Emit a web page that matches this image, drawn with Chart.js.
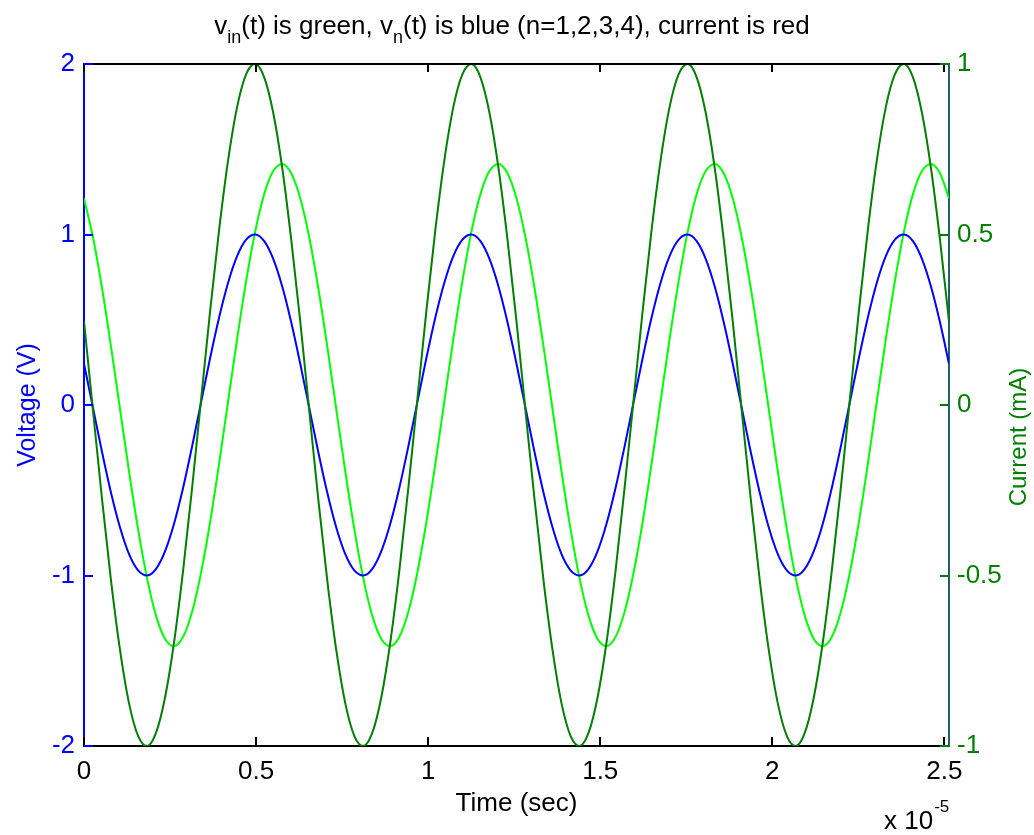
<!DOCTYPE html>
<html><head><meta charset="utf-8">
<script src="https://cdn.jsdelivr.net/npm/chart.js@4"></script>
<style>html,body{margin:0;padding:0;background:#fff;}canvas{display:block;}</style>
</head><body>
<canvas id="c" width="1034" height="835"></canvas>
<script>
// Time in units of 1e-5 s
const timeE5 = [
0, 0.0262, 0.0524, 0.0785, 0.1047, 0.1309, 0.1571, 0.1833, 0.2094, 0.2356, 0.2618, 0.2880, 0.3142, 0.3403, 0.3665, 0.3927, 0.4189, 0.4451, 0.4712, 0.4974, 0.5236, 0.5498, 0.5760, 0.6021,
0.6283, 0.6545, 0.6807, 0.7069, 0.7330, 0.7592, 0.7854, 0.8116, 0.8378, 0.8639, 0.8901, 0.9163, 0.9425, 0.9687, 0.9948, 1.0210, 1.0472, 1.0734, 1.0996, 1.1257, 1.1519, 1.1781, 1.2043, 1.2305,
1.2566, 1.2828, 1.3090, 1.3352, 1.3614, 1.3875, 1.4137, 1.4399, 1.4661, 1.4923, 1.5184, 1.5446, 1.5708, 1.5970, 1.6232, 1.6493, 1.6755, 1.7017, 1.7279, 1.7541, 1.7802, 1.8064, 1.8326, 1.8588,
1.8850, 1.9111, 1.9373, 1.9635, 1.9897, 2.0159, 2.0420, 2.0682, 2.0944, 2.1206, 2.1468, 2.1729, 2.1991, 2.2253, 2.2515, 2.2777, 2.3038, 2.3300, 2.3562, 2.3824, 2.4086, 2.4347, 2.4609, 2.4871,
2.5133];

// v_n(t), volts (blue)
const vnBlue = [
0.242, -0.017, -0.276, -0.515, -0.719, -0.875, -0.970, -1.000, -0.961, -0.857, -0.695, -0.485, -0.242, 0.017, 0.276, 0.515, 0.719, 0.875, 0.970, 1.000, 0.961, 0.857, 0.695, 0.485,
0.242, -0.017, -0.276, -0.515, -0.719, -0.875, -0.970, -1.000, -0.961, -0.857, -0.695, -0.485, -0.242, 0.017, 0.276, 0.515, 0.719, 0.875, 0.970, 1.000, 0.961, 0.857, 0.695, 0.485,
0.242, -0.017, -0.276, -0.515, -0.719, -0.875, -0.970, -1.000, -0.961, -0.857, -0.695, -0.485, -0.242, 0.017, 0.276, 0.515, 0.719, 0.875, 0.970, 1.000, 0.961, 0.857, 0.695, 0.485,
0.242, -0.017, -0.276, -0.515, -0.719, -0.875, -0.970, -1.000, -0.961, -0.857, -0.695, -0.485, -0.242, 0.017, 0.276, 0.515, 0.719, 0.875, 0.970, 1.000, 0.961, 0.857, 0.695, 0.485,
0.242];

// v_in(t), volts (bright green)
const vinGreen = [
1.212, 0.982, 0.686, 0.342, -0.025, -0.390, -0.728, -1.017, -1.237, -1.372, -1.414, -1.359, -1.212, -0.982, -0.686, -0.342, 0.025, 0.390, 0.728, 1.017, 1.237, 1.372, 1.414, 1.359,
1.212, 0.982, 0.686, 0.342, -0.025, -0.390, -0.728, -1.017, -1.237, -1.372, -1.414, -1.359, -1.212, -0.982, -0.686, -0.342, 0.025, 0.390, 0.728, 1.017, 1.237, 1.372, 1.414, 1.359,
1.212, 0.982, 0.686, 0.342, -0.025, -0.390, -0.728, -1.017, -1.237, -1.372, -1.414, -1.359, -1.212, -0.982, -0.686, -0.342, 0.025, 0.390, 0.728, 1.017, 1.237, 1.372, 1.414, 1.359,
1.212, 0.982, 0.686, 0.342, -0.025, -0.390, -0.728, -1.017, -1.237, -1.372, -1.414, -1.359, -1.212, -0.982, -0.686, -0.342, 0.025, 0.390, 0.728, 1.017, 1.237, 1.372, 1.414, 1.359,
1.212];

// current, mA (dark green, right axis)
const currentMA = [
0.245, -0.017, -0.276, -0.515, -0.719, -0.875, -0.970, -1.000, -0.961, -0.857, -0.695, -0.485, -0.242, 0.017, 0.276, 0.515, 0.719, 0.875, 0.970, 1.000, 0.961, 0.857, 0.695, 0.485,
0.245, -0.017, -0.276, -0.515, -0.719, -0.875, -0.970, -1.000, -0.961, -0.857, -0.695, -0.485, -0.242, 0.017, 0.276, 0.515, 0.719, 0.875, 0.970, 1.000, 0.961, 0.857, 0.695, 0.485,
0.245, -0.017, -0.276, -0.515, -0.719, -0.875, -0.970, -1.000, -0.961, -0.857, -0.695, -0.485, -0.242, 0.017, 0.276, 0.515, 0.719, 0.875, 0.970, 1.000, 0.961, 0.857, 0.695, 0.485,
0.245, -0.017, -0.276, -0.515, -0.719, -0.875, -0.970, -1.000, -0.961, -0.857, -0.695, -0.485, -0.242, 0.017, 0.276, 0.515, 0.719, 0.875, 0.970, 1.000, 0.961, 0.857, 0.695, 0.485,
0.245];

const xTickValues = [0, 0.5, 1, 1.5, 2, 2.5];
const voltTicks = [-2, -1, 0, 1, 2];
const currTicks = [-1, -0.5, 0, 0.5, 1];
const titleParts = [
  {text: 'v', sub: false}, {text: 'in', sub: true},
  {text: '(t) is green, v', sub: false}, {text: 'n', sub: true},
  {text: '(t) is blue (n=1,2,3,4), current is red', sub: false}
];

const FAM = '"Liberation Sans", Arial, Helvetica, sans-serif';
const BLUE = '#0000ff', LGREEN = '#00ff00', DGREEN = '#007f00', RAXIS = '#1f6070';
const fmt = v => String(Number(v.toFixed(3)));

const pts = ys => timeE5.map((t, i) => ({x: t, y: ys[i]}));

const decor = {
  id: 'decor',
  afterDraw(chart) {
    const {ctx, chartArea: a, scales} = chart;
    ctx.save();
    ctx.lineWidth = 2;
    // top border
    ctx.strokeStyle = '#000';
    ctx.beginPath(); ctx.moveTo(a.left, a.top); ctx.lineTo(a.right, a.top); ctx.stroke();
    // x ticks (inward, bottom and top)
    xTickValues.forEach(v => {
      const px = Math.round(scales.x.getPixelForValue(v));
      ctx.beginPath(); ctx.moveTo(px, a.bottom); ctx.lineTo(px, a.bottom - 9); ctx.stroke();
      ctx.beginPath(); ctx.moveTo(px, a.top); ctx.lineTo(px, a.top + 8); ctx.stroke();
    });
    // left ticks
    ctx.strokeStyle = BLUE;
    voltTicks.forEach(v => {
      const py = Math.round(scales.y.getPixelForValue(v));
      ctx.beginPath(); ctx.moveTo(a.left, py); ctx.lineTo(a.left + 9, py); ctx.stroke();
    });
    // right ticks
    ctx.strokeStyle = DGREEN;
    currTicks.forEach(v => {
      const py = Math.round(scales.y1.getPixelForValue(v));
      ctx.beginPath(); ctx.moveTo(a.right, py); ctx.lineTo(a.right - 9, py); ctx.stroke();
    });
    // Title with subscripts
    const mainF = '26px ' + FAM, subF = '18px ' + FAM;
    let total = 0;
    titleParts.forEach(p => { ctx.font = p.sub ? subF : mainF; total += ctx.measureText(p.text).width; });
    let x = 512 - total / 2;
    ctx.fillStyle = '#000'; ctx.textAlign = 'left'; ctx.textBaseline = 'alphabetic';
    titleParts.forEach(p => {
      ctx.font = p.sub ? subF : mainF;
      ctx.fillText(p.text, x, p.sub ? 43 : 34);
      x += ctx.measureText(p.text).width;
    });
    // right axis title (reads bottom-to-top)
    ctx.save();
    ctx.translate(1019, 437);
    ctx.rotate(-Math.PI / 2);
    ctx.font = '24px ' + FAM; ctx.fillStyle = DGREEN;
    ctx.textAlign = 'center'; ctx.textBaseline = 'middle';
    ctx.fillText('Current (mA)', 0, 0);
    ctx.restore();
    // exponent label
    ctx.fillStyle = '#000'; ctx.textAlign = 'left'; ctx.textBaseline = 'alphabetic';
    ctx.font = '26px ' + FAM;
    ctx.fillText('x 10', 884, 829);
    const w = ctx.measureText('x 10').width;
    ctx.font = '17px ' + FAM;
    ctx.fillText('-5', 884 + w + 1, 812);
    ctx.restore();
  }
};

new Chart(document.getElementById('c'), {
  type: 'line',
  data: {
    datasets: [
      {label: 'current', data: pts(currentMA), yAxisID: 'y1', borderColor: DGREEN, borderWidth: 2, pointRadius: 0, cubicInterpolationMode: 'monotone', order: 0},
      {label: 'v_n', data: pts(vnBlue), yAxisID: 'y', borderColor: BLUE, borderWidth: 2, pointRadius: 0, cubicInterpolationMode: 'monotone', order: 1},
      {label: 'v_in', data: pts(vinGreen), yAxisID: 'y', borderColor: LGREEN, borderWidth: 2, pointRadius: 0, cubicInterpolationMode: 'monotone', order: 2}
    ]
  },
  options: {
    responsive: false, animation: false, devicePixelRatio: 1,
    layout: {padding: {top: 64, left: 0, right: 0, bottom: 0}},
    plugins: {legend: {display: false}, tooltip: {enabled: false}, title: {display: false}},
    scales: {
      x: {
        type: 'linear', position: 'bottom', min: 0, max: 2.5133,
        grid: {display: false, drawTicks: false},
        border: {display: true, color: '#000', width: 2},
        ticks: {stepSize: 0.5, includeBounds: false, color: '#000', font: {family: FAM, size: 26}, padding: 10, maxRotation: 0, autoSkip: false, callback: fmt},
        title: {display: true, text: 'Time (sec)', color: '#000', font: {family: FAM, size: 26}, padding: {top: 0, bottom: 16}},
        afterFit(s) { s.height = 89; }
      },
      y: {
        type: 'linear', position: 'left', min: -2, max: 2,
        grid: {display: false, drawTicks: false},
        border: {display: true, color: BLUE, width: 2},
        ticks: {stepSize: 1, color: BLUE, font: {family: FAM, size: 26}, padding: 9, callback: fmt},
        title: {display: true, text: 'Voltage (V)', color: BLUE, font: {family: FAM, size: 25}, padding: {top: 13, bottom: 0}},
        afterFit(s) { s.width = 84; }
      },
      y1: {
        type: 'linear', position: 'right', min: -1, max: 1,
        grid: {display: false, drawTicks: false},
        border: {display: true, color: RAXIS, width: 2},
        ticks: {stepSize: 0.5, color: DGREEN, font: {family: FAM, size: 26}, padding: 8, callback: fmt},
        afterFit(s) { s.width = 85; }
      }
    }
  },
  plugins: [decor]
});
</script>
</body></html>
